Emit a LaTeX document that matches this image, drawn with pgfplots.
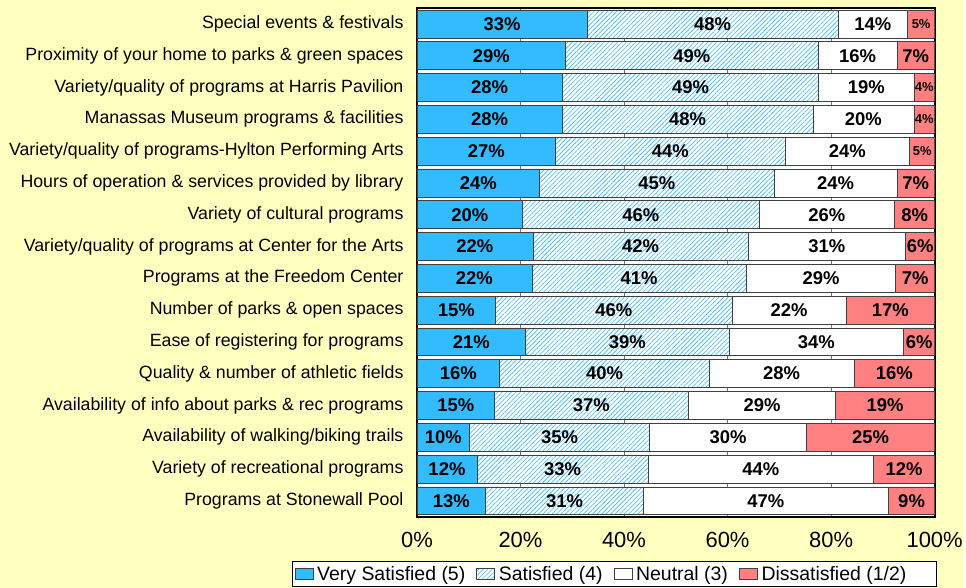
\documentclass[border=0pt]{standalone}
\usepackage{pgfplots}
\pgfplotsset{compat=1.18}
\usepackage{fontspec}
\setmainfont{Liberation Sans}
\usetikzlibrary{patterns.meta}
\definecolor{bg}{RGB}{255,255,192}
\definecolor{vsat}{RGB}{51,187,255}
\definecolor{diss}{RGB}{255,128,128}
\definecolor{hatch}{RGB}{51,187,255}
\begin{document}
\begin{tikzpicture}
\fill[bg] (0pt,0pt) rectangle (966pt,-589pt);
\begin{axis}[
  at={(418pt,-518pt)}, anchor=south west,
  scale only axis, width=519pt, height=510pt,
  xbar stacked, bar width=28pt,
  xmin=0, xmax=100, ymin=-0.5, ymax=15.5, y dir=reverse,
  axis background/.style={fill=white},
  axis line style={black, line width=1.8pt},
  xmajorgrids, major grid style={black!55, line width=0.8pt},
  major tick length=0pt,
  xtick={0,20,...,100},
  xticklabel={\pgfmathprintnumber{\tick}\%},
  /pgf/number format/assume math mode=true,
  xticklabel style={font=\fontsize{22}{22}\selectfont, yshift=-12pt},
  ytick={0,...,15},
  yticklabels={{Special events \& festivals},
    {Proximity of your home to parks \& green spaces},
    {Variety/quality of programs at Harris Pavilion},
    {Manassas Museum programs \& facilities},
    {Variety/quality of programs-Hylton Performing Arts},
    {Hours of operation \& services provided by library},
    {Variety of cultural programs},
    {Variety/quality of programs at Center for the Arts},
    {Programs at the Freedom Center},
    {Number of parks \& open spaces},
    {Ease of registering for programs},
    {Quality \& number of athletic fields},
    {Availability of info about parks \& rec programs},
    {Availability of walking/biking trails},
    {Variety of recreational programs},
    {Programs at Stonewall Pool}},
  yticklabel style={font=\fontsize{17.8}{17.8}\selectfont, xshift=-10pt},
  point meta=explicit symbolic,
  visualization depends on=rawx \as \rawx,
  nodes near coords={\ifdim\rawx pt<5.5pt\fontsize{13}{13}\selectfont\fi\pgfplotspointmeta\%},
  every node near coord/.append style={font=\fontsize{18.5}{18.5}\selectfont\bfseries, text=black, anchor=center},
  legend image code/.code={\draw[#1] (0pt,-5.5pt) rectangle (18pt,5.5pt);},
  legend columns=4,
  legend style={at={(-0.2408,-0.0863)}, anchor=north west, draw=black, line width=0.8pt, fill=white,
    font=\fontsize{19.5}{19.5}\selectfont, inner xsep=2pt, inner ysep=3pt,
    /tikz/every even column/.append style={column sep=9pt},
    /tikz/every odd column/.append style={column sep=2pt}},
]
\addplot[fill=vsat, draw=black!75, line width=0.6pt] coordinates {
(32.9,0) [33] (28.7,1) [29] (28.1,2) [28] (28.1,3) [28] (26.8,4) [27] (23.7,5) [24]
(20.4,6) [20] (22.4,7) [22] (22.2,8) [22] (15.2,9) [15] (21.0,10) [21] (16.0,11) [16]
(15.0,12) [15] (10.2,13) [10] (11.6,14) [12] (13.3,15) [13]};
\addplot[fill=white, draw=black!75, line width=0.6pt,
  postaction={pattern={Lines[angle=45,distance=3.2pt,line width=0.6pt]}, pattern color=hatch}] coordinates {
(48.4,0) [48] (48.8,1) [49] (49.5,2) [49] (48.4,3) [48] (44.3,4) [44] (45.3,5) [45]
(45.7,6) [46] (41.6,7) [42] (41.4,8) [41] (45.7,9) [46] (39.3,10) [39] (40.5,11) [40]
(37.4,12) [37] (34.7,13) [35] (33.1,14) [33] (30.4,15) [31]};
\addplot[fill=white, draw=black!75, line width=0.6pt] coordinates {
(13.5,0) [14] (15.2,1) [16] (18.4,2) [19] (19.5,3) [20] (24.1,4) [24] (23.7,5) [24]
(26.2,6) [26] (30.4,7) [31] (28.9,8) [29] (22.0,9) [22] (33.7,10) [34] (27.9,11) [28]
(28.5,12) [29] (30.4,13) [30] (43.5,14) [44] (47.4,15) [47]};
\addplot[fill=diss, draw=black!75, line width=0.6pt] coordinates {
(5.2,0) [5] (7.3,1) [7] (4.0,2) [4] (4.0,3) [4] (4.8,4) [5] (7.3,5) [7]
(7.7,6) [8] (5.6,7) [6] (7.5,8) [7] (17.1,9) [17] (6.0,10) [6] (15.6,11) [16]
(19.1,12) [19] (24.7,13) [25] (11.8,14) [12] (8.9,15) [9]};
\legend{Very Satisfied (5), Satisfied (4), Neutral (3), Dissatisfied (1/2)\rule{26pt}{0pt}}
\end{axis}
\end{tikzpicture}
\end{document}
